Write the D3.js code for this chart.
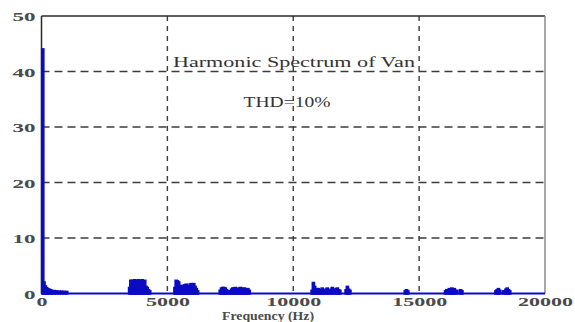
<!DOCTYPE html>
<html>
<head>
<meta charset="utf-8">
<script src="https://cdn.jsdelivr.net/npm/d3@7"></script>
<style>
  html, body { margin: 0; padding: 0; background: #ffffff; }
  svg { display: block; }
  text { font-family: "Liberation Serif", "DejaVu Serif", serif; }
</style>
</head>
<body>
<svg id="chart" width="575" height="322"></svg>
<script>
// ---- data ----
const titleText = "Harmonic Spectrum of Van";
const thdText = "THD=10%";
const xLabel = "Frequency (Hz)";
const xTicks = [0, 5000, 10000, 15000, 20000];
const yTicks = [0, 10, 20, 30, 40, 50];

// frequency (Hz) of each visible component
const harmonicFreq = [
  50, 100, 150, 200, 250, 300, 350, 400, 500, 600, 700, 800, 900, 1000,
  3500, 3550, 3600, 3650, 3700, 3750, 3800, 3850, 3900, 3950, 4000, 4050, 4100, 4150, 4200, 4250, 4300,
  5300, 5350, 5400, 5450, 5500, 5550, 5600, 5650, 5700, 5750, 5800, 5850, 5900, 5950, 6000, 6050, 6100, 6150, 6200,
  7100, 7150, 7200, 7250, 7300, 7350, 7400, 7500, 7550, 7600, 7650, 7700, 7750, 7800, 7850, 7900, 7950, 8000, 8050, 8100, 8150, 8200, 8250,
  10750, 10800, 10850, 10900, 10950, 11000, 11050, 11100, 11150, 11200, 11300, 11350, 11400, 11500, 11550, 11600, 11700, 11750, 11800, 11850, 12100, 12150, 12200, 12250,
  14450, 14500, 14550,
  16050, 16100, 16200, 16250, 16300, 16350, 16400, 16500, 16650, 16700,
  18050, 18100, 18150, 18200, 18350, 18450, 18500, 18550, 18600
];
// magnitude of each component
const harmonicMag = [
  44.0, 2.0, 1.3, 1.0, 0.8, 0.7, 0.6, 0.5, 0.45, 0.4, 0.35, 0.35, 0.3, 0.3,
  1.0, 2.3, 2.3, 1.5, 2.4, 1.3, 2.3, 2.4, 1.4, 2.3, 2.4, 1.6, 2.3, 1.2, 1.0, 0.6, 0.4,
  1.0, 2.3, 2.2, 2.0, 1.3, 1.2, 1.4, 1.1, 1.5, 1.6, 1.2, 1.0, 1.6, 1.7, 1.5, 1.7, 1.2, 0.8, 0.4,
  0.5, 0.9, 1.0, 1.0, 0.9, 0.6, 0.4, 0.4, 0.7, 0.9, 0.9, 1.0, 0.8, 0.7, 0.9, 1.0, 0.9, 0.8, 0.9, 0.8, 0.6, 0.8, 0.5,
  0.5, 1.9, 1.2, 0.8, 0.6, 0.8, 0.6, 0.5, 0.9, 0.5, 0.7, 0.9, 0.5, 0.7, 1.0, 0.6, 0.8, 0.9, 0.6, 0.5, 0.6, 1.2, 0.7, 0.5,
  0.4, 0.6, 0.4,
  0.4, 0.6, 0.8, 0.6, 0.9, 0.7, 0.8, 0.5, 0.6, 0.4,
  0.4, 0.6, 0.8, 0.5, 0.4, 0.7, 0.9, 0.6, 0.4
];

// ---- drawing ----
const svg = d3.select("#chart");
const x = d3.scaleLinear().domain([0, 20000]).range([41.5, 545]);
const y = d3.scaleLinear().domain([0, 50]).range([293.5, 16]);
const blue = "#0b0bc4";
const gridColor = "#3c3c3c";

// grid lines
svg.append("g").selectAll("line.hg")
  .data(yTicks.filter(v => v > 0 && v < 50))
  .join("line")
  .attr("x1", x(0)).attr("x2", x(20000))
  .attr("y1", d => y(d)).attr("y2", d => y(d))
  .attr("stroke", gridColor).attr("stroke-width", 1.4)
  .attr("stroke-dasharray", "8,5");
svg.append("g").selectAll("line.vg")
  .data(xTicks.filter(v => v > 0 && v < 20000))
  .join("line")
  .attr("x1", d => x(d)).attr("x2", d => x(d))
  .attr("y1", y(50)).attr("y2", y(0))
  .attr("stroke", gridColor).attr("stroke-width", 1.4)
  .attr("stroke-dasharray", "5,5");

// frame
svg.append("line").attr("x1", x(0)).attr("x2", x(20000)).attr("y1", y(50)).attr("y2", y(50))
  .attr("stroke", "#2a2a2a").attr("stroke-width", 1.5);
svg.append("line").attr("x1", x(20000)).attr("x2", x(20000)).attr("y1", y(50)).attr("y2", y(0))
  .attr("stroke", "#8a8a8a").attr("stroke-width", 1.5);
svg.append("line").attr("x1", x(0)).attr("x2", x(0)).attr("y1", y(50)).attr("y2", y(0))
  .attr("stroke", "#2a2a2a").attr("stroke-width", 1.5);

// spectrum bars
const binW = x(50) - x(0);
svg.append("g").selectAll("rect")
  .data(harmonicFreq.map((f, i) => ({ f, m: harmonicMag[i] })))
  .join("rect")
  .attr("x", d => x(d.f) - binW / 2)
  .attr("width", binW)
  .attr("y", d => y(d.m))
  .attr("height", d => y(0) - y(d.m))
  .attr("fill", blue).attr("stroke", blue).attr("stroke-width", 2.4);

// baseline
svg.append("line").attr("x1", x(0)).attr("x2", x(20000)).attr("y1", y(0)).attr("y2", y(0))
  .attr("stroke", blue).attr("stroke-width", 2);

// axis tick labels
const tickStyle = s => s.attr("font-size", 13).attr("font-weight", "bold").attr("fill", "#4a4a4a");
const yAxis = d3.axisLeft(y).tickValues(yTicks).tickSize(0).tickPadding(6);
const gy = svg.append("g").attr("transform", `translate(${x(0)},0)`).call(yAxis);
gy.select(".domain").remove();
gy.selectAll("text").call(tickStyle).attr("font-family", "Liberation Serif, serif")
  .attr("textLength", d => String(d).length * 11.5).attr("lengthAdjust", "spacingAndGlyphs")
  .attr("x", -6).attr("dy", "0.35em");

const xAxis = d3.axisBottom(x).tickValues(xTicks).tickSize(0).tickPadding(0).tickFormat(d3.format("d"));
const gx = svg.append("g").attr("transform", `translate(0,${y(0)})`).call(xAxis);
gx.select(".domain").remove();
gx.selectAll("text").call(tickStyle).attr("font-family", "Liberation Serif, serif")
  .attr("y", 12).attr("dy", 0)
  .attr("textLength", d => String(d).length * 11).attr("lengthAdjust", "spacingAndGlyphs");

// axis title
svg.append("text").attr("x", 268).attr("y", 320).attr("text-anchor", "middle")
  .attr("font-size", 13).attr("font-weight", "bold").attr("fill", "#4a4a4a")
  .attr("textLength", 92).attr("lengthAdjust", "spacingAndGlyphs")
  .text(xLabel);

// annotations
svg.append("text").attr("x", 294).attr("y", 67).attr("text-anchor", "middle")
  .attr("font-size", 15).attr("fill", "#333")
  .attr("textLength", 242).attr("lengthAdjust", "spacingAndGlyphs")
  .text(titleText);
svg.append("text").attr("x", 287).attr("y", 107).attr("text-anchor", "middle")
  .attr("font-size", 14).attr("fill", "#333")
  .attr("textLength", 87).attr("lengthAdjust", "spacingAndGlyphs")
  .text(thdText);
</script>
</body>
</html>
